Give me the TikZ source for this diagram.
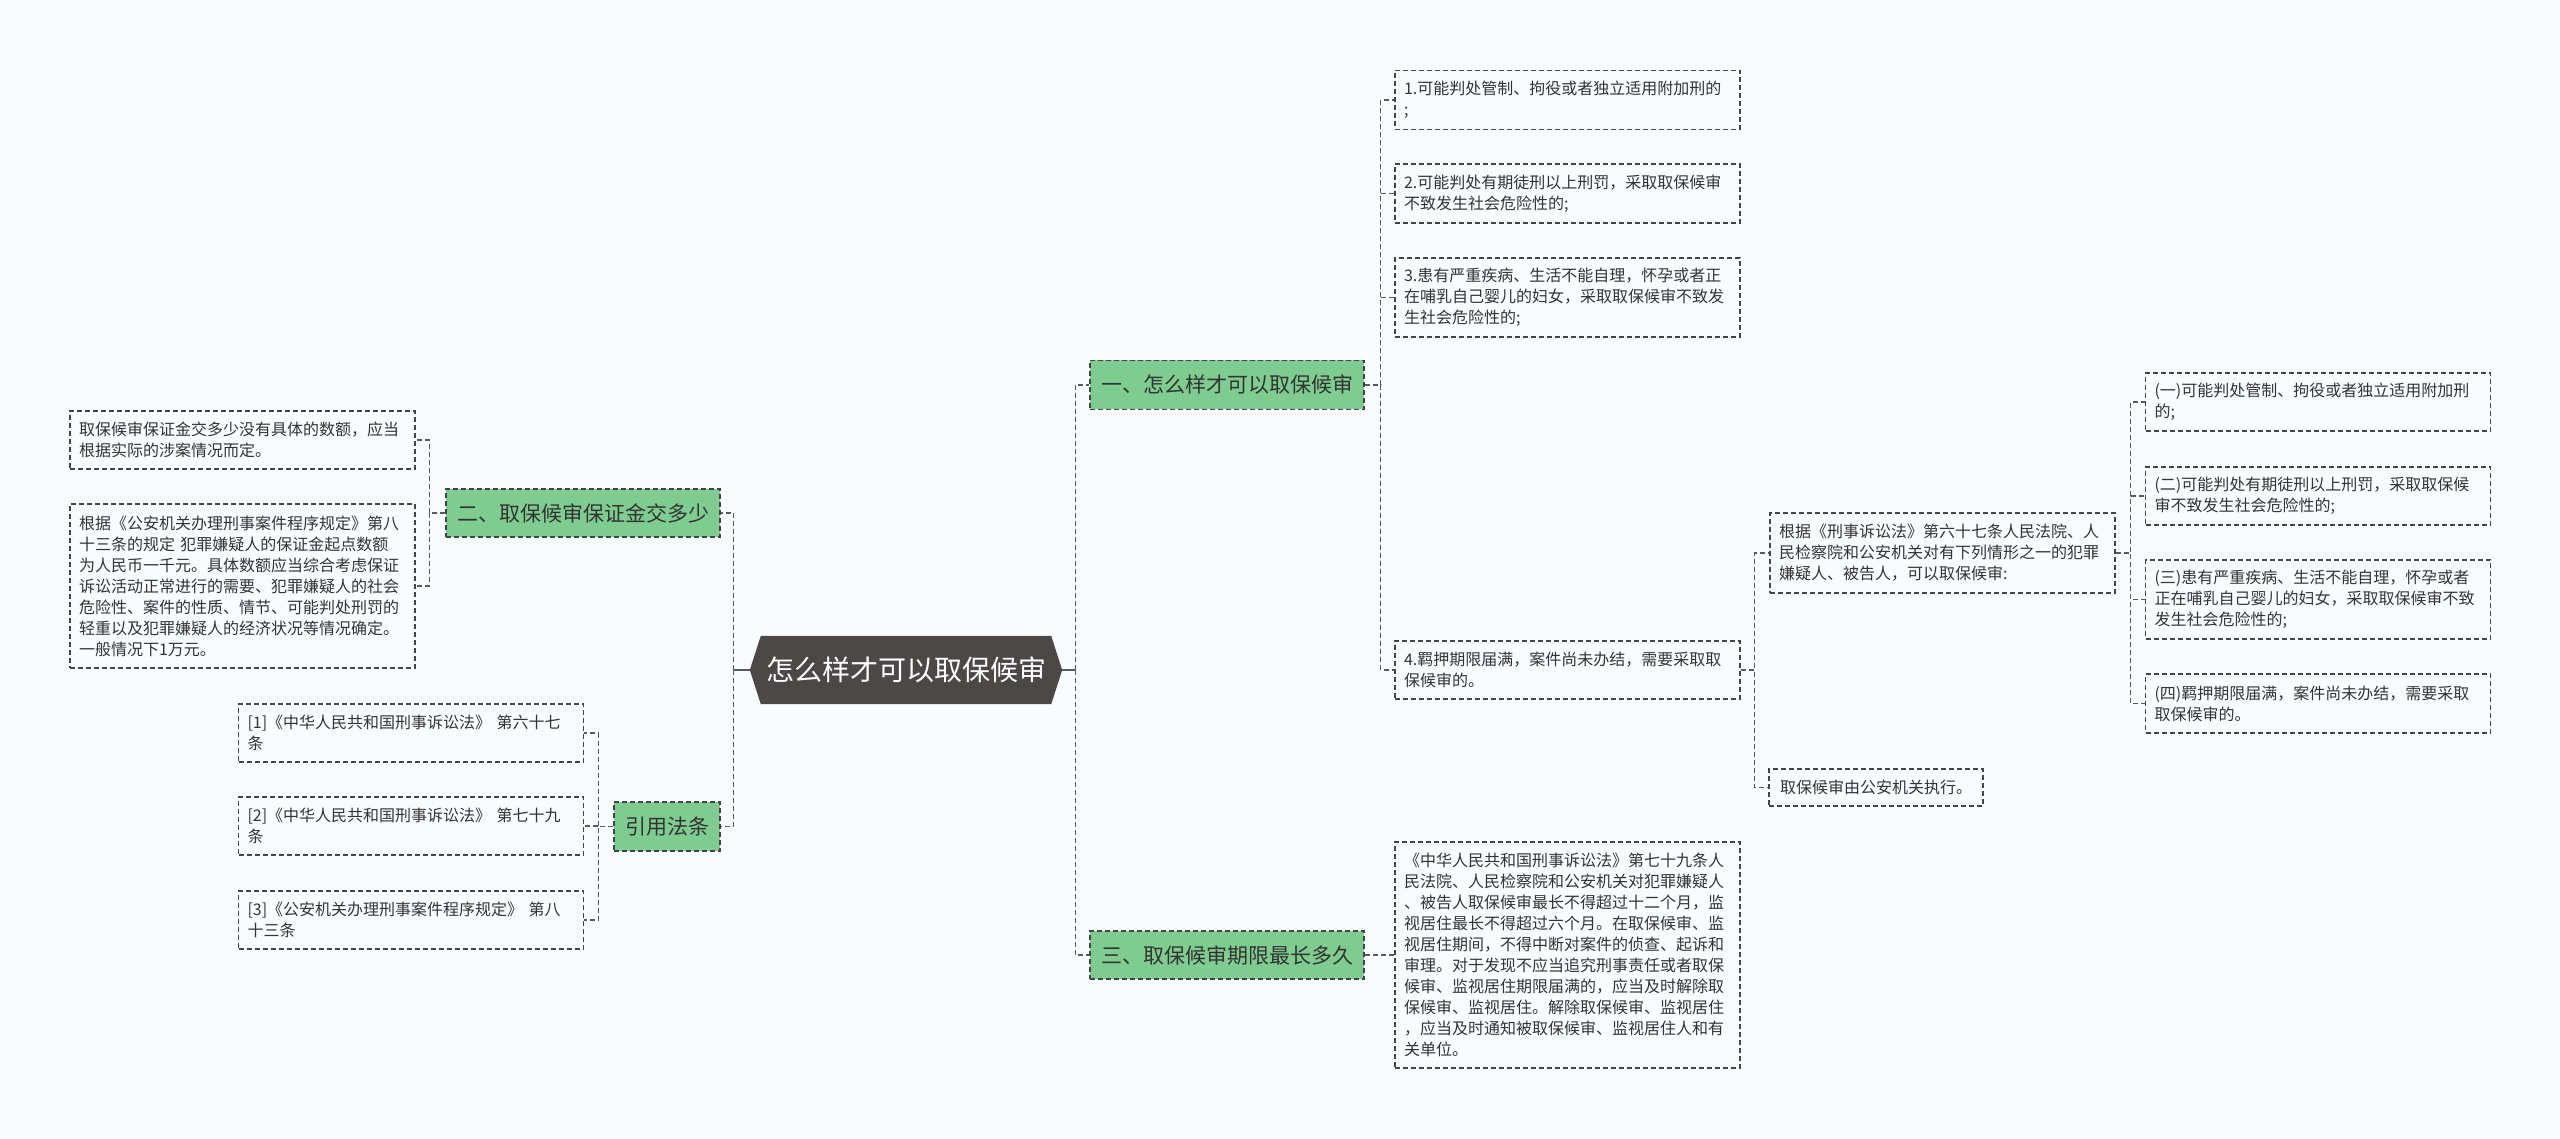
\documentclass[tikz,border=0pt]{standalone}
\usepackage{fontspec}
\setmainfont{Noto Sans CJK SC}
\usetikzlibrary{backgrounds}
\definecolor{bgc}{RGB}{249,252,254}
\definecolor{greenfill}{RGB}{126,204,143}
\definecolor{hexfill}{RGB}{77,72,72}
\definecolor{linec}{RGB}{68,68,68}
\definecolor{connc}{RGB}{90,90,90}
\definecolor{txtc}{RGB}{51,51,51}
\tikzset{
  leaf/.style={draw=linec, line width=1.2pt, dash pattern=on 5pt off 3pt,
    text=txtc, font=\fontsize{16}{21}\selectfont, align=left,
    text width=327pt, inner xsep=9pt, inner ysep=0pt},
  leafshort/.style={draw=linec, line width=1.2pt, dash pattern=on 5pt off 3pt,
    text=txtc, font=\fontsize{16}{21}\selectfont, inner xsep=9pt, inner ysep=0pt},
  topic/.style={draw=linec, line width=1.2pt, dash pattern=on 5pt off 3pt,
    fill=greenfill, text=txtc, font=\fontsize{21}{25}\selectfont, inner sep=0pt},
  conn/.style={draw=connc, line width=1.2pt, dash pattern=on 5pt off 3pt},
  stub/.style={draw=connc, line width=1.6pt},
}
\begin{document}
\begin{tikzpicture}[x=1pt, y=-1pt]
\useasboundingbox (0,0) rectangle (2560,1139);

% central node
\node[minimum width=290pt, minimum height=68pt, inner sep=0pt, text=white,
  font=\fontsize{28}{32}\selectfont] (c) at (906,670) {怎么样才可以取保候审};

% left topics
\node[topic, minimum width=274pt, minimum height=48pt] (er) at (583,513) {二、取保候审保证金交多少};
\node[topic, minimum width=106pt, minimum height=49pt] (yy) at (667,826.5) {引用法条};

\node[leaf, minimum height=58pt] (A) at (242.5,440) {取保候审保证金交多少没有具体的数额，应当\\根据实际的涉案情况而定。};
\node[leaf, minimum height=164pt] (B) at (242.5,586) {根据《公安机关办理刑事案件程序规定》第八\\十三条的规定~犯罪嫌疑人的保证金起点数额\\为人民币一千元。具体数额应当综合考虑保证\\诉讼活动正常进行的需要、犯罪嫌疑人的社会\\危险性、案件的性质、情节、可能判处刑罚的\\轻重以及犯罪嫌疑人的经济状况等情况确定。\\一般情况下1万元。};

\node[leaf, minimum height=58pt] (r1) at (411,733) {[1]《中华人民共和国刑事诉讼法》~第六十七\\条};
\node[leaf, minimum height=58pt] (r2) at (411,826) {[2]《中华人民共和国刑事诉讼法》~第七十九\\条};
\node[leaf, minimum height=58pt] (r3) at (411,920) {[3]《公安机关办理刑事案件程序规定》~第八\\十三条};

% right topics
\node[topic, minimum width=274pt, minimum height=49pt] (g1) at (1227,385) {一、怎么样才可以取保候审};
\node[topic, minimum width=274pt, minimum height=48pt] (g3) at (1227,955) {三、取保候审期限最长多久};

\node[leaf, minimum height=59pt] (s1) at (1567.5,100) {1.可能判处管制、拘役或者独立适用附加刑的\\;};
\node[leaf, minimum height=59pt] (s2) at (1567.5,193.5) {2.可能判处有期徒刑以上刑罚，采取取保候审\\不致发生社会危险性的;};
\node[leaf, minimum height=79pt] (s3) at (1567.5,297.5) {3.患有严重疾病、生活不能自理，怀孕或者正\\在哺乳自己婴儿的妇女，采取取保候审不致发\\生社会危险性的;};
\node[leaf, minimum height=58pt] (s4) at (1567.5,670) {4.羁押期限届满，案件尚未办结，需要采取取\\保候审的。};

\node[leaf, minimum height=80pt] (gj) at (1942.5,553) {根据《刑事诉讼法》第六十七条人民法院、人\\民检察院和公安机关对有下列情形之一的犯罪\\嫌疑人、被告人，可以取保候审:};
\node[leafshort, minimum width=214pt, minimum height=37pt] (gx) at (1876,787.5) {取保候审由公安机关执行。};

\node[leaf, minimum height=58pt] (t1) at (2318,402) {(一)可能判处管制、拘役或者独立适用附加刑\\的;};
\node[leaf, minimum height=58pt] (t2) at (2318,496) {(二)可能判处有期徒刑以上刑罚，采取取保候\\审不致发生社会危险性的;};
\node[leaf, minimum height=79pt] (t3) at (2318,599.5) {(三)患有严重疾病、生活不能自理，怀孕或者\\正在哺乳自己婴儿的妇女，采取取保候审不致\\发生社会危险性的;};
\node[leaf, minimum height=59pt] (t4) at (2318,703.5) {(四)羁押期限届满，案件尚未办结，需要采取\\取保候审的。};

\node[leaf, minimum height=226pt] (lg) at (1567.5,955) {《中华人民共和国刑事诉讼法》第七十九条人\\民法院、人民检察院和公安机关对犯罪嫌疑人\\、被告人取保候审最长不得超过十二个月，监\\视居住最长不得超过六个月。在取保候审、监\\视居住期间，不得中断对案件的侦查、起诉和\\审理。对于发现不应当追究刑事责任或者取保\\候审、监视居住期限届满的，应当及时解除取\\保候审、监视居住。解除取保候审、监视居住\\，应当及时通知被取保候审、监视居住人和有\\关单位。};

% background and hexagon
\begin{scope}[on background layer]
  \fill[bgc] (0,0) rectangle (2560,1139);
  \fill[hexfill] (c.north west) -- (c.north east) -- ([xshift=11pt]c.east)
    -- (c.south east) -- (c.south west) -- ([xshift=-11pt]c.west) -- cycle;
\end{scope}

% connectors from centre
\coordinate (cl) at ([xshift=-27pt]c.west);
\coordinate (cr) at ([xshift=24pt]c.east);
\draw[stub] ([xshift=-11pt]c.west) -- (cl);
\draw[stub] ([xshift=11pt]c.east) -- (cr);
\draw[conn] (cl) |- (er.east);
\draw[conn] (cl) |- (yy.east);
\draw[conn] (cr) |- (g1.west);
\draw[conn] (cr) |- (g3.west);

% left subtrees
\draw[conn] (er.west) -- ++(-16,0) |- (A.east);
\draw[conn] (er.west) -- ++(-16,0) |- (B.east);
\draw[conn] (yy.west) -- ++(-15,0) |- (r1.east);
\draw[conn] (yy.west) -- ++(-15,0) |- (r2.east);
\draw[conn] (yy.west) -- ++(-15,0) |- (r3.east);

% right subtrees
\draw[conn] (g1.east) -- ++(16,0) |- (s1.west);
\draw[conn] (g1.east) -- ++(16,0) |- (s2.west);
\draw[conn] (g1.east) -- ++(16,0) |- (s3.west);
\draw[conn] (g1.east) -- ++(16,0) |- (s4.west);
\draw[conn] (s4.east) -- ++(14,0) |- (gj.west);
\draw[conn] (s4.east) -- ++(14,0) |- (gx.west);
\draw[conn] (gj.east) -- ++(15,0) |- (t1.west);
\draw[conn] (gj.east) -- ++(15,0) |- (t2.west);
\draw[conn] (gj.east) -- ++(15,0) |- (t3.west);
\draw[conn] (gj.east) -- ++(15,0) |- (t4.west);
\draw[conn] (g3.east) -- (lg.west);
\end{tikzpicture}
\end{document}
